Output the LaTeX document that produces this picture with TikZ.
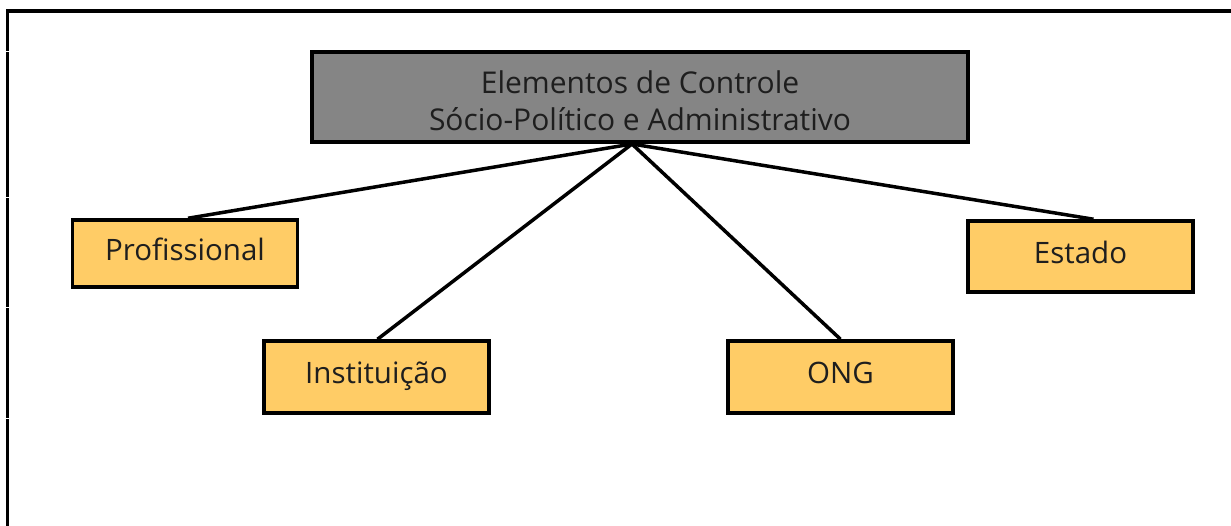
\documentclass[tikz,border=0pt]{standalone}
\usepackage{fontspec}
\setmainfont{Open Sans}
\definecolor{boxfill}{HTML}{FFCC66}
\definecolor{topfill}{HTML}{858585}
\definecolor{txt}{HTML}{1E1E1E}
\begin{document}
\begin{tikzpicture}[x=1pt,y=-1pt,
  leaf/.style={draw=black, line width=3.5pt, fill=boxfill, text=txt,
    minimum width=225pt, inner sep=0pt, text height=14pt, text depth=0pt,
    font=\fontsize{29.5}{34}\selectfont},
  topbox/.style={draw=black, line width=4pt, fill=topfill, text=txt,
    minimum width=656pt, minimum height=90pt, inner sep=0pt, align=center,
    font=\fontsize{30}{37}\selectfont},
  link/.style={line width=3.5pt}]
\useasboundingbox (0,0) rectangle (1231,526);
\draw[line width=3.5pt] (7.5,526) -- (7.5,11) -- (1231,11);
\foreach \yy in {52,198,308,418} \draw[white, line width=1pt] (4,\yy) -- (11,\yy);
\node[topbox] (top) at (640,97) {\rule{0pt}{31pt}Elementos de Controle\\Sócio-Político e Administrativo};
\node[leaf, minimum height=67pt] (prof) at (185,253.5) {Profissional};
\node[leaf, minimum height=72pt] (inst) at (376.5,377) {Instituição};
\node[leaf, minimum height=72pt] (ong) at (840.5,377) {ONG};
\node[leaf, minimum height=71pt] (est) at (1080.5,256.5) {Estado};
\coordinate (apex) at ([xshift=-8pt]top.south);
\draw[link] (apex) -- ([xshift=3pt]prof.north);
\draw[link] (apex) -- ([xshift=1pt]inst.north);
\draw[link] (apex) -- (ong.north);
\draw[link] (apex) -- ([xshift=13pt]est.north);
\end{tikzpicture}
\end{document}
